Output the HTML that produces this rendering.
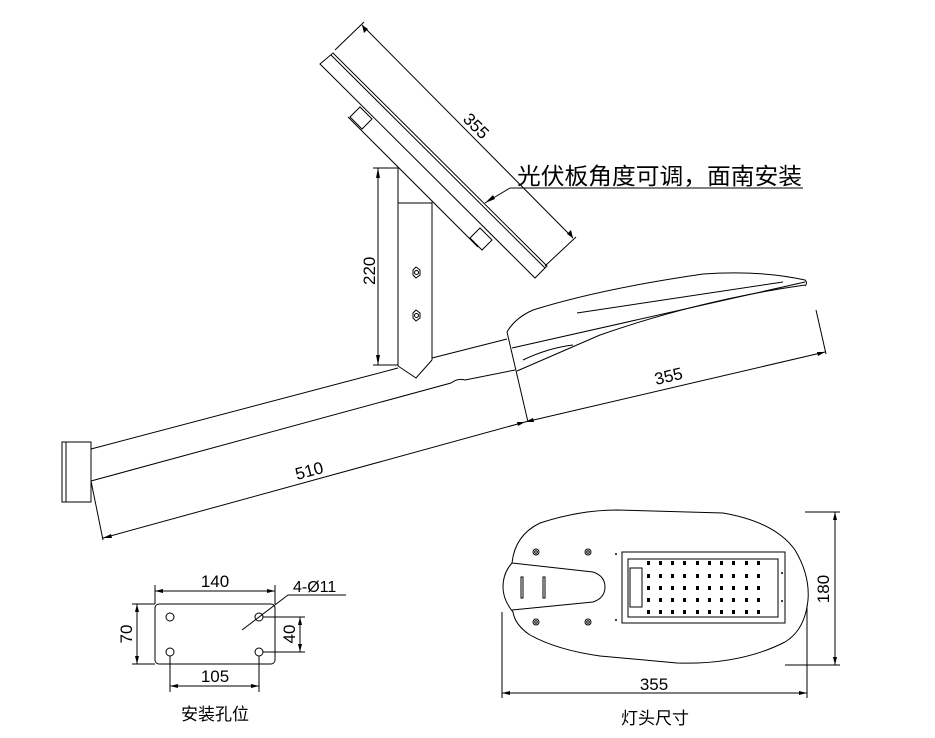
<!DOCTYPE html>
<html><head><meta charset="utf-8"><style>
html,body{margin:0;padding:0;background:#fff;}
svg{display:block;}
text{font-family:"Liberation Sans","Noto Sans CJK SC",sans-serif;fill:#000;}
</style></head><body>
<svg width="935" height="738" viewBox="0 0 935 738" xmlns="http://www.w3.org/2000/svg">
<g fill="none" stroke="#000" stroke-width="1">
<polygon points="320,64 333,53 547,266 535,278"/>
<line x1="331" y1="55" x2="545" y2="268"/>
<line x1="348" y1="117" x2="478" y2="247"/>
<polygon points="350,117 360,107 372,119 362,129"/>
<polygon points="470,238 480,228 492,240 482,250"/>
<line x1="335" y1="50" x2="364" y2="22"/>
<line x1="545" y1="266" x2="576" y2="237"/>
<line x1="362" y1="25" x2="573" y2="238"/>
<line x1="485" y1="203" x2="510" y2="188"/>
<line x1="510" y1="188" x2="803" y2="188"/>
<line x1="398" y1="168" x2="398" y2="366"/>
<line x1="432" y1="202" x2="432" y2="360"/>
<line x1="398" y1="203" x2="432" y2="203"/>
<polyline points="398,366 416,378 432,360"/>
<polygon points="413,270 416,267 420,270 420,275 416,278 413,275"/>
<circle cx="416.5" cy="272.5" r="2"/>
<polygon points="413,313 416,310 420,313 420,318 416,321 413,318"/>
<circle cx="416.5" cy="315.5" r="2"/>
<line x1="378" y1="168" x2="378" y2="365"/>
<line x1="373" y1="168" x2="398" y2="168"/>
<line x1="373" y1="365" x2="398" y2="365"/>
<rect x="62" y="442" width="29" height="60"/>
<line x1="66" y1="442" x2="66" y2="502"/>
<line x1="91" y1="449" x2="398" y2="368"/>
<line x1="432" y1="358" x2="507" y2="339"/>
<path d="M91,481 L451,383 Q458,378 465,380 L515,370"/>
<path d="M507,332 Q515,318 533,310 Q600,289 703,274 Q760,270 805,280 Q808,283 805,286"/>
<line x1="805" y1="282" x2="512" y2="348"/>
<path d="M805,285 Q700,300 600,335 L517,371"/>
<line x1="577" y1="313" x2="783" y2="282"/>
<path d="M523,360 Q548,348 573,345"/>
<line x1="507" y1="332" x2="528" y2="422"/>
<line x1="91" y1="481" x2="103" y2="540"/>
<line x1="103" y1="538" x2="525" y2="422"/>
<line x1="525" y1="422" x2="825" y2="352"/>
<line x1="816" y1="310" x2="826" y2="354"/>
<rect x="155" y="604" width="120" height="60" rx="4"/>
<circle cx="170" cy="617" r="4"/>
<circle cx="259" cy="617" r="4"/>
<circle cx="170" cy="652" r="4"/>
<circle cx="259" cy="652" r="4"/>
<line x1="155" y1="585" x2="155" y2="604"/>
<line x1="275" y1="585" x2="275" y2="604"/>
<line x1="155" y1="591" x2="275" y2="591"/>
<line x1="170" y1="656" x2="170" y2="692"/>
<line x1="259" y1="656" x2="259" y2="692"/>
<line x1="170" y1="686" x2="259" y2="686"/>
<line x1="132" y1="604" x2="155" y2="604"/>
<line x1="132" y1="664" x2="155" y2="664"/>
<line x1="137" y1="604" x2="137" y2="664"/>
<line x1="263" y1="617" x2="305" y2="617"/>
<line x1="263" y1="652" x2="305" y2="652"/>
<line x1="300" y1="617" x2="300" y2="652"/>
<line x1="242" y1="630" x2="288" y2="595"/>
<line x1="288" y1="595" x2="346" y2="595"/>
<path d="M512,563 Q515,535 540,523 Q580,510 617,510 L723,513 Q775,522 795,550 Q810,575 808,600 Q805,630 785,642 Q740,665 677,663 L600,656 Q557,650 530,635 Q515,625 513,612 Q503,600 503,587 Q503,573 512,563 Z"/>
<path d="M512,563 L593,572 Q605,576 605,587 Q605,598 593,602 L512,610"/>
<rect x="521" y="577" width="2" height="21"/>
<rect x="543" y="577" width="2" height="21"/>
<circle cx="536" cy="552" r="3"/><circle cx="536" cy="552" r="1.3"/>
<circle cx="588" cy="552" r="3"/><circle cx="588" cy="552" r="1.3"/>
<circle cx="536" cy="622" r="3"/><circle cx="536" cy="622" r="1.3"/>
<circle cx="588" cy="622" r="3"/><circle cx="588" cy="622" r="1.3"/>
<rect x="622" y="552" width="163" height="71"/>
<rect x="628" y="559" width="150" height="58"/>
<rect x="630" y="568" width="12" height="39"/>
<line x1="805" y1="512" x2="840" y2="512"/>
<line x1="785" y1="665" x2="840" y2="665"/>
<line x1="835" y1="512" x2="835" y2="665"/>
<line x1="502" y1="612" x2="502" y2="698"/>
<line x1="807" y1="605" x2="807" y2="698"/>
<line x1="502" y1="693" x2="807" y2="693"/>
</g>
<g fill="#000">
<g id="dots">
<rect x="647" y="561" width="3" height="4"/><rect x="659" y="561" width="3" height="4"/><rect x="671" y="561" width="3" height="4"/><rect x="683" y="561" width="3" height="4"/><rect x="696" y="561" width="3" height="4"/><rect x="708" y="561" width="3" height="4"/><rect x="720" y="561" width="3" height="4"/><rect x="732" y="561" width="3" height="4"/><rect x="745" y="561" width="3" height="4"/><rect x="757" y="561" width="3" height="4"/>
</g>
<use href="#dots" y="13"/><use href="#dots" y="25"/><use href="#dots" y="37"/><use href="#dots" y="49"/>
<circle cx="616" cy="554" r="1"/><circle cx="616" cy="620" r="1"/><circle cx="782" cy="573" r="1"/><circle cx="782" cy="601" r="1"/>
<polygon points="485,203 493,195 495,199"/>
<polygon points="378,168 376,178 380,178"/><polygon points="378,365 376,355 380,355"/>
<polygon points="155,591 163,589 163,593"/><polygon points="275,591 267,589 267,593"/>
<polygon points="170,686 178,684 178,688"/><polygon points="259,686 251,684 251,688"/>
<polygon points="137,604 135,612 139,612"/><polygon points="137,664 135,656 139,656"/>
<polygon points="300,617 298,625 302,625"/><polygon points="300,652 298,644 302,644"/>
<polygon points="835,512 833,520 837,520"/><polygon points="835,665 833,657 837,657"/>
<polygon points="502,693 510,691 510,695"/><polygon points="807,693 799,691 799,695"/>
<polygon points="103,538 111,534 112,538"/><polygon points="525,422 517,422 518,426"/>
<polygon points="825,352 817,352 818,356"/><polygon points="525,422 533,418 534,422"/>
<polygon points="362,25 364,33 368,29"/><polygon points="573,238 571,230 567,234"/>
</g>
<g font-size="17">
<text x="0" y="0" transform="translate(462,120) rotate(45)">355</text>
<text x="0" y="0" transform="translate(375,285) rotate(-90)">220</text>
<text x="0" y="0" transform="translate(297,480) rotate(-15)">510</text>
<text x="0" y="0" transform="translate(656,385) rotate(-13)">355</text>
<text x="215" y="587" text-anchor="middle">140</text>
<text x="215" y="682" text-anchor="middle">105</text>
<text x="0" y="0" transform="translate(132,634) rotate(-90)" text-anchor="middle">70</text>
<text x="0" y="0" transform="translate(295,634) rotate(-90)" text-anchor="middle">40</text>
<text x="293" y="592" font-size="16">4-Ø11</text>
<text x="654" y="690" text-anchor="middle">355</text>
<text x="0" y="0" transform="translate(829,589) rotate(-90)" text-anchor="middle">180</text>
</g>
<text x="517" y="184" font-size="23" textLength="285" lengthAdjust="spacingAndGlyphs">光伏板角度可调，面南安装</text>
<text x="215" y="720" font-size="17" text-anchor="middle">安装孔位</text>
<text x="655" y="724" font-size="17" text-anchor="middle">灯头尺寸</text>
</svg>
</body></html>
